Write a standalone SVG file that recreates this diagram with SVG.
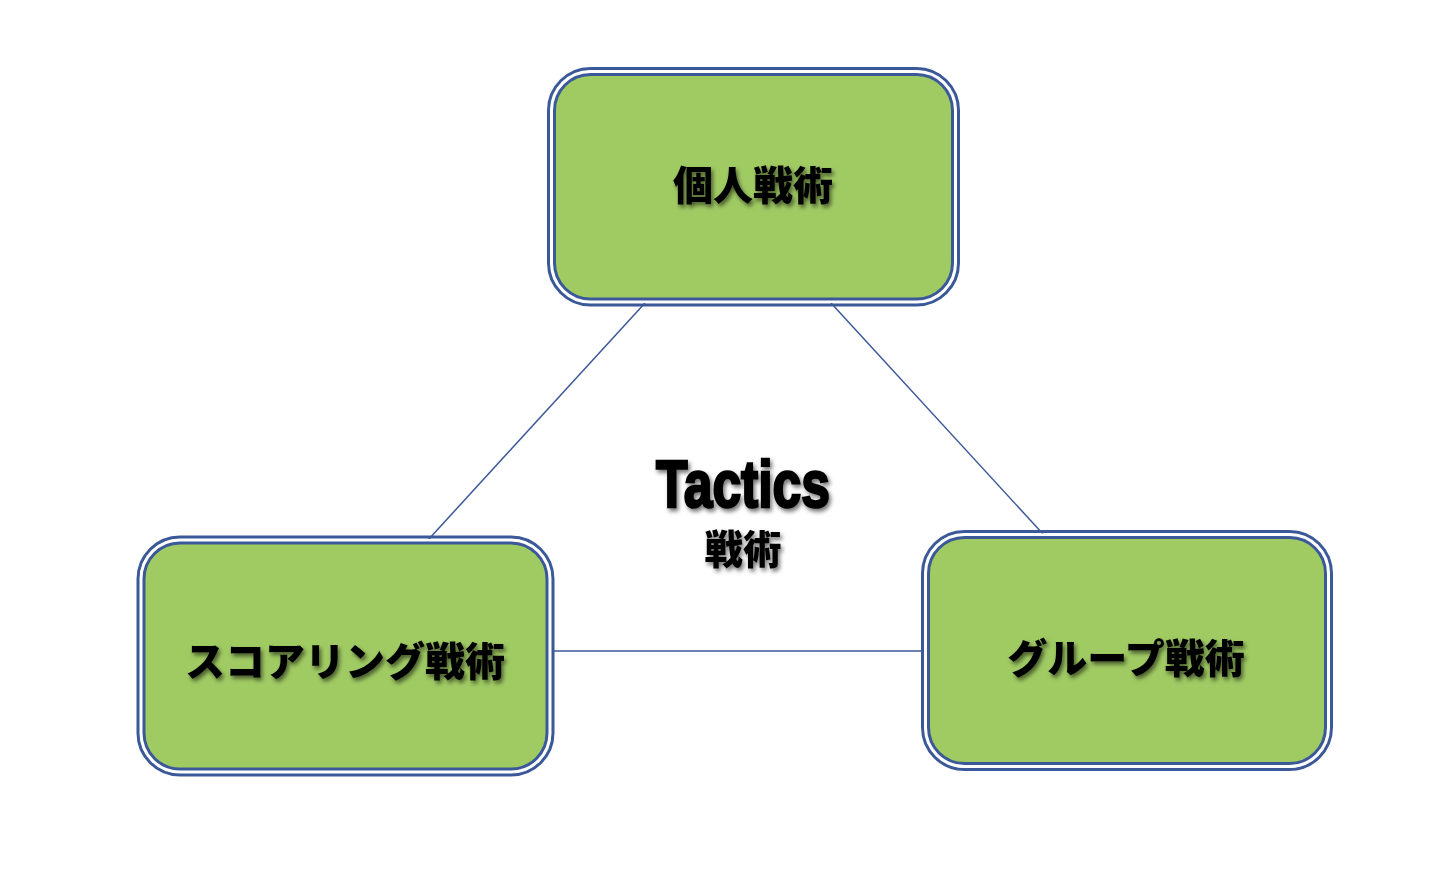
<svg xmlns="http://www.w3.org/2000/svg" width="1454" height="892" viewBox="0 0 1454 892">
  <defs>
    <filter id="sh" x="-20%" y="-40%" width="140%" height="180%">
      <feDropShadow dx="2" dy="3" stdDeviation="2" flood-color="#000" flood-opacity="0.55"/>
    </filter>
  </defs>
  <style>
    .outer { fill: none; stroke: #3B5998; stroke-width: 3; }
    .gap { fill: none; stroke: #ffffff; stroke-width: 2; }
    .inner { fill: #A0CB63; stroke: #3B5998; stroke-width: 3; }
    .conn { stroke: #3B5998; stroke-width: 1.5; fill: none; }
    .jp { font-family: "Noto Sans CJK JP", "Noto Sans", sans-serif; font-weight: 900; font-size: 40px; fill: #000; text-anchor: middle; dominant-baseline: central; filter: url(#sh); }
    .en { font-family: "Liberation Sans", Arial, sans-serif; font-weight: bold; font-size: 66px; fill: #000; stroke: #000; stroke-width: 2.5; filter: url(#sh); }
  </style>
  <rect width="1454" height="892" fill="#ffffff"/>

  <g id="connectors">
    <line class="conn" x1="645" y1="303" x2="428" y2="540"/>
    <line class="conn" x1="831" y1="303" x2="1043" y2="534"/>
    <line class="conn" x1="553" y1="651" x2="924" y2="651"/>
  </g>

  <g id="node-top">
    <rect class="outer" x="548.5" y="68.5" width="410" height="236.5" rx="42"/>
    <rect class="gap" x="551.5" y="71.5" width="404" height="230.5" rx="39" />
    <rect class="inner" x="554.5" y="74.5" width="398" height="224.5" rx="36"/>
    <text class="jp" x="753" y="183">個人戦術</text>
  </g>

  <g id="node-left">
    <rect class="outer" x="138" y="537" width="415" height="238" rx="42"/>
    <rect class="gap" x="141" y="540" width="409" height="232" rx="39"/>
    <rect class="inner" x="144" y="543" width="403" height="226" rx="36"/>
    <text class="jp" x="345" y="659">スコアリング戦術</text>
  </g>

  <g id="node-right">
    <rect class="outer" x="922.5" y="531.5" width="409" height="238" rx="42"/>
    <rect class="gap" x="925.5" y="534.5" width="403" height="232" rx="39"/>
    <rect class="inner" x="928.5" y="537.5" width="397" height="226" rx="36"/>
    <text class="jp" x="1126" y="656">グループ戦術</text>
  </g>

  <g id="title">
    <text class="en" x="656" y="507" textLength="174" lengthAdjust="spacingAndGlyphs">Tactics</text>
    <text class="jp" x="743" y="547" font-size="37" textLength="77" lengthAdjust="spacingAndGlyphs">戦術</text>
  </g>
</svg>
